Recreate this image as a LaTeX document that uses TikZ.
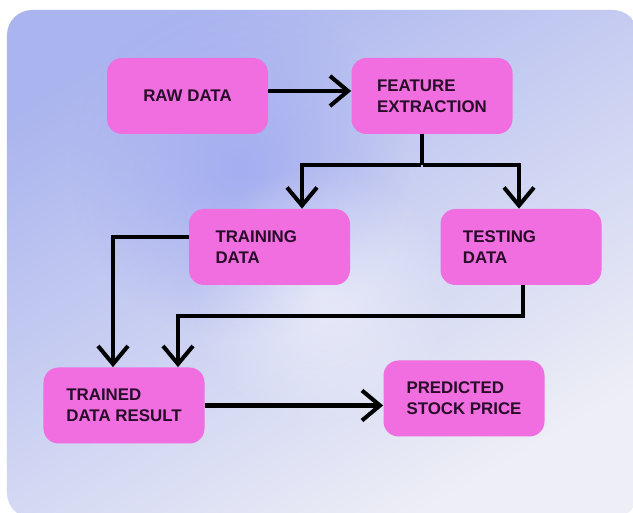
\documentclass[tikz,border=0pt]{standalone}
\usepackage{fontspec}
\setmainfont{Liberation Sans}
\usepackage{xcolor}
\usepackage{tikz}
\usetikzlibrary{arrows.meta}
\usetikzlibrary{fadings}
\definecolor{boxpink}{RGB}{240,110,224}
\definecolor{inkdark}{RGB}{40,12,40}
\definecolor{bgtop}{RGB}{170,180,238}
\definecolor{bgbot}{RGB}{238,239,246}
\definecolor{bgspot}{RGB}{158,168,240}
\tikzfading[name=spotfade, inner color=transparent!0, outer color=transparent!100]

\begin{document}
\begin{tikzpicture}[
  box/.style={fill=boxpink, rounded corners=0.3cm, minimum width=3.22cm,
    minimum height=1.52cm, align=left, font=\bfseries\fontsize{9.6}{12}\selectfont,
    text=inkdark, inner sep=0pt},
  flow/.style={line width=2.3pt, -{Straight Barb[length=3.6mm,width=6mm]}}]
\useasboundingbox (0,0) rectangle (12.66,-10.26);
% background card
\begin{scope}
\clip[rounded corners=0.5cm] (0.14,-0.2) rectangle (12.76,-10.36);
\shade[top color=bgtop, bottom color=bgbot, shading angle=30] (0,0) rectangle (12.76,-10.36);
\fill[bgspot, path fading=spotfade, fill opacity=0.8] (4.8,-3.4) circle (3.4);
\fill[white, path fading=spotfade, fill opacity=0.5] (6.4,-5.9) circle (2.6);
\end{scope}
% boxes
\node[box] (raw) at (3.75,-1.92) {RAW DATA};
\node[box] (feat) at (8.64,-1.92) {FEATURE\\EXTRACTION};
\node[box, text width=2.16cm] (train) at (5.39,-4.94) {TRAINING\\DATA};
\node[box, text width=2.32cm] (test) at (10.42,-4.94) {TESTING\\DATA};
\node[box] (trained) at (2.48,-8.11) {TRAINED\\DATA RESULT};
\node[box] (pred) at (9.28,-7.97) {PREDICTED\\STOCK PRICE};
% arrows
\coordinate (split) at (8.44,-3.3);
\draw[flow] ([yshift=1mm]raw.east) -- ([yshift=1mm]feat.west);
\draw[line width=2.3pt] (feat.south -| split) -- (split);
\draw[flow] ([xshift=-0.5pt]split) -| ([xshift=6.5mm]train.north);
\draw[flow] ([xshift=0.5pt]split) -| ([xshift=-0.4mm]test.north);
\draw[flow] ([yshift=2mm]train.west) -| ([xshift=-2.2mm]trained.north);
\draw[flow] ([xshift=0.4mm]test.south) -- ++(0,-0.62) -| ([xshift=10.8mm]trained.north);
\draw[flow] (trained.east) -- (trained.east -| pred.west);
\end{tikzpicture}
\end{document}
